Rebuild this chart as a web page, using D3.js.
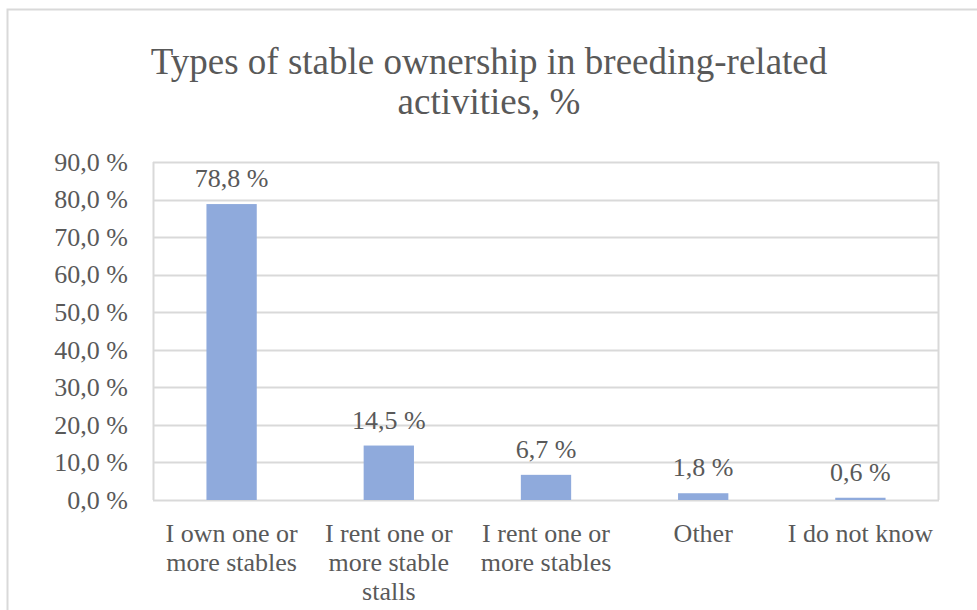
<!DOCTYPE html>
<html>
<head>
<meta charset="utf-8">
<script src="https://cdn.jsdelivr.net/npm/d3@7"></script>
<style>
  html, body { margin: 0; padding: 0; background: #fff; }
  svg { display: block; }
  svg text { font-family: "Liberation Serif", "Tinos", "Times New Roman", serif !important; fill: #595959; }
</style>
</head>
<body>
<svg id="chart" width="977" height="610"></svg>
<script>
// ---- data ----
const categories = [
  "I own one or more stables",
  "I rent one or more stable stalls",
  "I rent one or more stables",
  "Other",
  "I do not know"
];
const values = [78.8, 14.5, 6.7, 1.8, 0.6];
const yTicks = [0, 10, 20, 30, 40, 50, 60, 70, 80, 90];
const titleLines = ["Types of stable ownership in breeding-related", "activities, %"];

// ---- layout ----
const W = 977, H = 610;
const plot = { left: 153, right: 939, top: 162, bottom: 500 };
const svg = d3.select("#chart");

svg.append("rect")
  .attr("x", 7.5).attr("y", 9.5)
  .attr("width", W + 20).attr("height", H + 20)
  .attr("fill", "#fff").attr("stroke", "#d9d9d9").attr("stroke-width", 2);

const fmt = v => v.toFixed(1).replace(".", ",") + " %";

const x = d3.scaleBand().domain(categories).range([plot.left, plot.right]).paddingInner(0.68).paddingOuter(0.34);
const y = d3.scaleLinear().domain([0, 90]).range([plot.bottom, plot.top]);

svg.append("text")
  .attr("class", "title")
  .attr("text-anchor", "middle")
  .attr("font-size", 37)
  .selectAll("tspan").data(titleLines).join("tspan")
  .attr("x", 489)
  .attr("y", (d, i) => 74 + i * 40)
  .text(d => d);

svg.append("g").selectAll("line").data(yTicks).join("line")
  .attr("x1", plot.left).attr("x2", plot.right)
  .attr("y1", d => Math.round(y(d)) + 0.5).attr("y2", d => Math.round(y(d)) + 0.5)
  .attr("stroke", "#d9d9d9").attr("stroke-width", 2);

svg.append("line").attr("x1", plot.left + 0.5).attr("x2", plot.left + 0.5)
  .attr("y1", plot.top).attr("y2", plot.bottom).attr("stroke", "#d9d9d9").attr("stroke-width", 2);
svg.append("line").attr("x1", plot.right - 0.5).attr("x2", plot.right - 0.5)
  .attr("y1", plot.top).attr("y2", plot.bottom).attr("stroke", "#d9d9d9").attr("stroke-width", 2);

const yAxis = d3.axisLeft(y).tickValues(yTicks).tickFormat(fmt).tickSize(0).tickPadding(25);
const gy = svg.append("g").attr("transform", `translate(${plot.left},0)`).call(yAxis);
gy.select(".domain").remove();
gy.attr("font-family", null);
gy.selectAll("text").attr("font-size", 26).attr("fill", "#595959");

svg.append("g").selectAll("rect").data(values).join("rect")
  .attr("x", (d, i) => x(categories[i]))
  .attr("width", x.bandwidth())
  .attr("y", d => y(d))
  .attr("height", d => y(0) - y(d))
  .attr("fill", "#8faadc");

svg.append("g").selectAll("text").data(values).join("text")
  .attr("x", (d, i) => x(categories[i]) + x.bandwidth() / 2)
  .attr("y", d => y(d) - 17)
  .attr("text-anchor", "middle")
  .attr("font-size", 26)
  .text(d => fmt(d));

const xAxis = d3.axisBottom(x).tickSize(0).tickPadding(0);
const gx = svg.append("g").attr("transform", `translate(0,${plot.bottom})`).call(xAxis);
gx.select(".domain").remove();
gx.attr("font-family", null);
const maxW = (plot.right - plot.left) / categories.length;
gx.selectAll("text")
  .attr("font-size", 26).attr("fill", "#595959")
  .attr("y", 0).attr("dy", null)
  .each(function(d) {
    const t = d3.select(this);
    const words = d.split(" ");
    t.text(null);
    let lines = [], cur = [];
    const probe = t.append("tspan");
    words.forEach(w => {
      const test = cur.concat([w]).join(" ");
      probe.text(test);
      if (probe.node().getComputedTextLength() > maxW - 2 && cur.length) {
        lines.push(cur.join(" "));
        cur = [w];
      } else cur.push(w);
    });
    lines.push(cur.join(" "));
    probe.remove();
    lines.forEach((l, i) => {
      t.append("tspan").attr("x", 0).attr("y", 42 + i * 29).text(l);
    });
  });
</script>
</body>
</html>
